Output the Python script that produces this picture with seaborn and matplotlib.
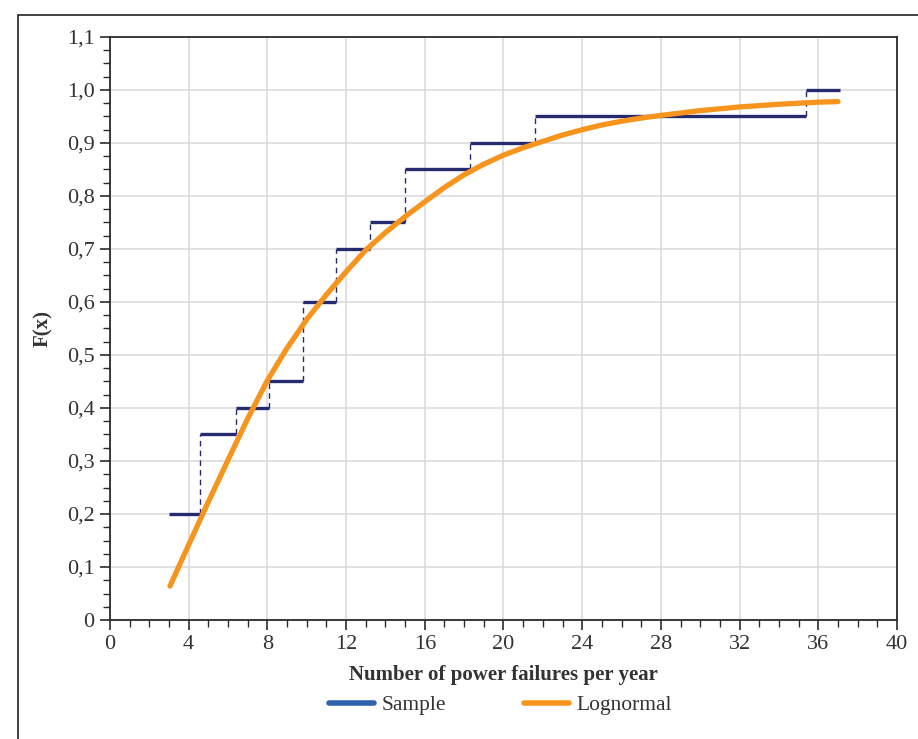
import numpy as np
import pandas as pd
import matplotlib
matplotlib.use("Agg")
import matplotlib.pyplot as plt
import seaborn as sns
from matplotlib.lines import Line2D
from matplotlib.patches import Rectangle
from matplotlib.ticker import MultipleLocator, FuncFormatter

# Empirical distribution (step edges and levels)
step_edges = [3.0, 4.6, 6.4, 8.1, 9.8, 11.5, 13.2, 15.0, 18.3, 21.6, 35.4, 37.1]
step_levels = [0.20, 0.35, 0.40, 0.45, 0.60, 0.70, 0.75, 0.85, 0.90, 0.95, 1.00]

# Lognormal fitted curve
curve_x = [3.05, 4, 5, 6, 7, 8, 9, 10, 11, 12, 13, 14, 15, 16, 17, 18, 19, 20,
           21, 22, 23, 24, 25, 26, 27, 28, 30, 32, 34, 36, 37]
curve_y = [0.064, 0.142, 0.223, 0.302, 0.380, 0.452, 0.513, 0.567, 0.614, 0.657,
           0.698, 0.731, 0.761, 0.789, 0.816, 0.840, 0.860, 0.877, 0.891, 0.903,
           0.915, 0.925, 0.934, 0.941, 0.947, 0.952, 0.961, 0.968, 0.973, 0.977,
           0.978]

x_ticks = [0, 4, 8, 12, 16, 20, 24, 28, 32, 36, 40]

navy = "#262a6e"
orange = "#f7941d"
legend_blue = "#2e62ae"
text_col = "#333333"

sns.set_style("white")
plt.rcParams["font.family"] = ["Liberation Serif", "DejaVu Serif"]

fig = plt.figure(figsize=(9.18, 7.39), dpi=100)
ax = fig.add_axes([0.1198, 0.161, 0.8573, 0.789])

# outer frame of the figure
fig.patches.append(Rectangle((18 / 918, -0.1), 1.2, 1 - 15 / 739 + 0.1,
                             transform=fig.transFigure, fill=False,
                             edgecolor="#222222", linewidth=1.2, zorder=0))

# step function
ax.hlines(step_levels, step_edges[:-1], step_edges[1:], color=navy, linewidth=2.4, zorder=3)
ax.vlines(step_edges[1:-1], step_levels[:-1], step_levels[1:], color=navy,
          linewidth=1.0, linestyles=(0, (4, 3)), zorder=3)

df = pd.DataFrame({"x": curve_x, "F": curve_y})
sns.lineplot(data=df, x="x", y="F", color=orange, linewidth=3.8, ax=ax, zorder=4)

ax.set_xlim(0, 40)
ax.set_ylim(0, 1.1)
ax.set_xticks(x_ticks)
ax.set_yticks(np.round(np.arange(0, 1.11, 0.1), 1))
ax.xaxis.set_minor_locator(MultipleLocator(1))
ax.yaxis.set_minor_locator(MultipleLocator(0.025))
ax.yaxis.set_major_formatter(FuncFormatter(
    lambda v, p: "0" if abs(v) < 1e-9 else f"{v:.1f}".replace(".", ",")))
ax.grid(True, which="major", color="#dcdcdc", linewidth=1.2)
ax.set_axisbelow(True)
for s in ax.spines.values():
    s.set_color("#2b2b2b")
    s.set_linewidth(1.3)
ax.tick_params(which="major", direction="out", length=7, width=1.2,
               color="#2b2b2b", labelsize=16, labelcolor=text_col,
               bottom=True, left=True, pad=4)
ax.tick_params(which="minor", direction="out", length=5, width=1.0,
               color="#2b2b2b", bottom=True, left=True)

ax.set_xlabel("Number of power failures per year", fontsize=15,
              fontweight="bold", color=text_col, labelpad=8)
ax.set_ylabel("F(x)", fontsize=15, fontweight="bold", color=text_col, labelpad=10)

handles = [Line2D([], [], color=legend_blue, linewidth=4),
           Line2D([], [], color=orange, linewidth=4)]
fig.legend(handles, ["Sample", "Lognormal"], loc="center",
           bbox_to_anchor=(0.545, 0.046), ncol=2, frameon=False,
           fontsize=15.5, handlelength=2.1, handletextpad=0.35,
           columnspacing=3.6, labelcolor=text_col)

fig.savefig("out.png", dpi=100)
